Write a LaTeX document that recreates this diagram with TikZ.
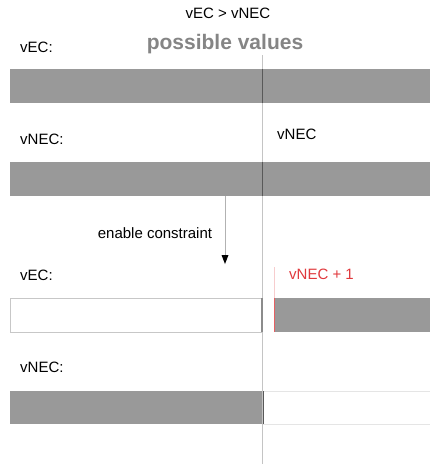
\documentclass[tikz,border=0pt]{standalone}
\usepackage{fontspec}
\setmainfont{Liberation Sans}
\usetikzlibrary{arrows.meta}
\definecolor{barfill}{HTML}{999999}
\definecolor{guide}{HTML}{C4C4C4}
\definecolor{redmark}{HTML}{E0383C}
\begin{document}
\begin{tikzpicture}[x=1pt,y=-1pt,
  txt/.style={inner sep=0pt,font=\fontsize{15}{18}\selectfont},
  lbl/.style={txt,anchor=west},
  bar/.style={fill=barfill,draw=none},
  emptybar/.style={draw=black!22,line width=0.8pt,fill=white}]
\useasboundingbox (0,0) rectangle (430,464);

% title and heading
\node[txt] (title) at (228,13) {vEC > vNEC};
\node[inner sep=0pt,font=\bfseries\fontsize{21}{24}\selectfont,text=black!48] (head) at (225,44) {possible values};

% first state: both domains full
\node[lbl] (l1) at (20,47) {vEC:};
\fill[barfill] (10,69) rectangle (430,103);
\node[lbl] (l2) at (20,139) {vNEC:};
\node[lbl] (v) at (277,134) {vNEC};
\fill[barfill] (10,162) rectangle (430,196);

% second state: vEC pruned after enabling the constraint
\node[lbl] (l3) at (20,275) {vEC:};
\node[lbl,text=redmark] (vp) at (289,274) {vNEC + 1};
\draw[emptybar] (10,298) rectangle (262,332);
\fill[barfill] (274,298) rectangle (430,332);
\draw[redmark!25,line width=0.6pt] (274,267) -- (274,298);
\draw[redmark!80,line width=0.7pt] (274,298) -- (274,332);

\node[lbl] (l4) at (20,367) {vNEC:};
\draw[black!10,line width=0.8pt] (263,391) -- (430,391) (263,424) -- (430,424);
\fill[barfill] (10,391) rectangle (263,424);

% guide line through the value vNEC
\coordinate (gtop) at (262,55);
\coordinate (gbot) at (262,464);
\draw[guide,line width=0.8pt] (gtop) -- (gbot);
\draw[black!65,line width=0.9pt] (262,69) -- (262,103) (262,162) -- (262,196) (263,391) -- (263,424);
\draw[black!45,line width=1.4pt] (262,298) -- (262,332);

% transition arrow
\coordinate (as) at (225,196);
\coordinate (ae) at (225,264);
\draw[black!30,line width=0.5pt] (as) -- (225,256);
\fill[black] (221.5,255) -- (228.5,255) -- (ae) -- cycle;
\node[txt] (ec) at (155,233) {enable constraint};
\end{tikzpicture}
\end{document}
